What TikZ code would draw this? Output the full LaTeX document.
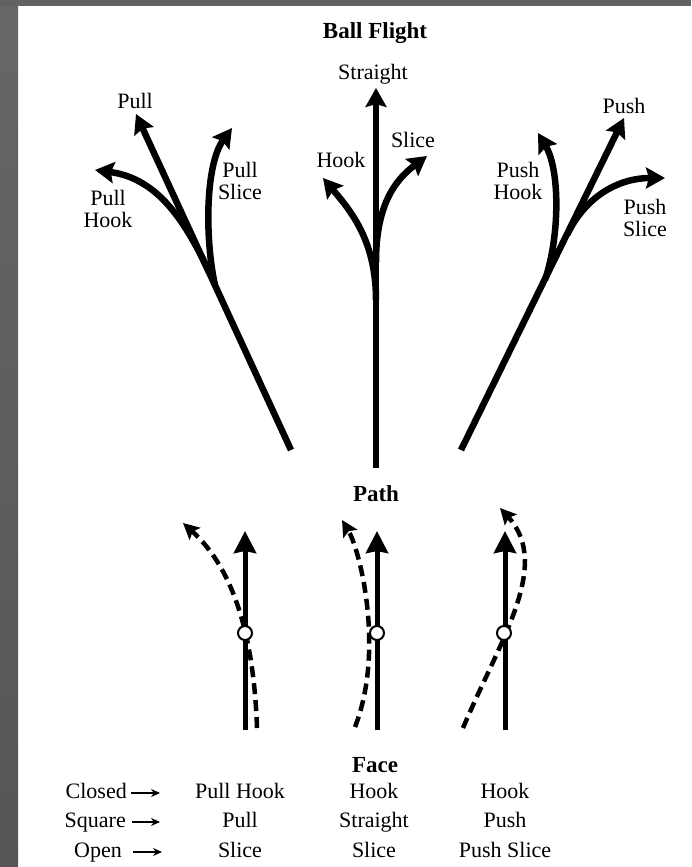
\documentclass[tikz,border=0pt]{standalone}
\usepackage{fontspec}
\setmainfont{Liberation Serif}
\usetikzlibrary{arrows.meta}

\definecolor{frametop}{HTML}{626262}
\definecolor{frameA}{HTML}{676767}
\definecolor{frameB}{HTML}{555555}
\definecolor{frameC}{HTML}{707070}

\begin{document}
\begin{tikzpicture}[x=1pt,y=-1pt,
    ballarrow/.style={line width=6.5pt, -{Stealth[length=19pt,width=21pt,inset=3pt]}},
    patharrow/.style={line width=5pt, -{Stealth[length=22pt,width=22pt,inset=2pt]}},
    facecurve/.style={line width=4.5pt, dash pattern=on 11pt off 6pt, -{Stealth[length=16pt,width=16pt,inset=3pt]}},
    facearrow/.style={line width=1.3pt, -{Stealth[length=9pt,width=8pt]}},
    lbl/.style={font=\fontsize{22}{22}\selectfont, align=center, inner sep=0pt},
    cell/.style={font=\fontsize{22}{22}\selectfont, inner sep=0pt, text height=15pt, text depth=5pt},
    ttl/.style={font=\fontsize{23}{23}\selectfont\bfseries, inner sep=0pt}]
    % frame
    \fill[white] (0,0) rectangle (691,867);
    \shade[top color=frameA, middle color=frameC, bottom color=frameB] (0,0) rectangle (18,867);
    \fill[frametop] (0,0) rectangle (691,6);
    \useasboundingbox (0,0) rectangle (691,867);

    % ball flight
    \node[ttl] (ballflight) at (375,33) {Ball Flight};
    \coordinate (pullbase) at (291,450);
    \coordinate (pulltip) at (136,114);
    \coordinate (pullhookjoin) at (209,272);
    \coordinate (pullhooktip) at (95,170);
    \coordinate (pullslicejoin) at (215,285);
    \coordinate (pullslicetip) at (232,128);
    \draw[ballarrow] (pullbase) -- (pulltip);
    \draw[ballarrow] (pullhookjoin) .. controls (183,216) and (155,178) .. (pullhooktip);
    \draw[ballarrow] (pullslicejoin) .. controls (205,240) and (205,165) .. (pullslicetip);
    \node[lbl] (pull) at (135,101) {Pull};
    \node[lbl] (pullhook) at (108,209) {Pull\\Hook};
    \node[lbl] (pullslice) at (240,181) {Pull\\Slice};

    \coordinate (straightbase) at (376,468);
    \coordinate (straighttip) at (376,88);
    \coordinate (hookjoin) at (376,300);
    \coordinate (hooktip) at (323,178);
    \coordinate (slicejoin) at (376,262);
    \coordinate (slicetip) at (427,156);
    \draw[ballarrow] (straightbase) -- (straighttip);
    \draw[ballarrow] (hookjoin) .. controls (376,240) and (350,210) .. (hooktip);
    \draw[ballarrow] (slicejoin) .. controls (376,205) and (395,180) .. (slicetip);
    \node[lbl] (straight) at (373,74) {Straight};
    \node[lbl] (hook) at (341,160) {Hook};
    \node[lbl] (slice) at (413,140) {Slice};

    \coordinate (pushbase) at (461,450);
    \coordinate (pushtip) at (624,118);
    \coordinate (pushhookjoin) at (545,280);
    \coordinate (pushhooktip) at (538,133);
    \coordinate (pushslicejoin) at (567,235);
    \coordinate (pushslicetip) at (665,178);
    \draw[ballarrow] (pushbase) -- (pushtip);
    \draw[ballarrow] (pushhookjoin) .. controls (560,235) and (560,170) .. (pushhooktip);
    \draw[ballarrow] (pushslicejoin) .. controls (586,195) and (620,178) .. (pushslicetip);
    \node[lbl] (push) at (624,106) {Push};
    \node[lbl] (pushhook) at (518,181) {Push\\Hook};
    \node[lbl] (pushslice) at (645,218) {Push\\Slice};

    % path
    \node[ttl] (path) at (376,494) {Path};
    \foreach \n/\x in {left/245, mid/377, right/505} {
      \coordinate (\n base) at (\x,730);
      \coordinate (\n tip) at (\x,531);
      \draw[patharrow] (\n base) -- (\n tip);
    }
    \draw[facecurve] (257,728) .. controls (254,640) and (235,570) .. (183,523);
    \draw[facecurve] (355,727) .. controls (385,650) and (360,550) .. (342,520);
    \draw[facecurve] (463,728) .. controls (500,640) and (552,565) .. (500,508);
    \foreach \n/\x in {left/245, mid/377, right/504}
      \draw[line width=2pt, fill=white] (\x,633) circle (7);

    % face
    \node[ttl] (face) at (375,765) {Face};
    \node[cell, anchor=east] (closed) at (127,793) {Closed};
    \node[cell, anchor=east] (square) at (126,822) {Square};
    \node[cell, anchor=east] (open) at (122,852) {Open};
    \foreach \n/\g/\l in {closed/4/29, square/6/28, open/11/29}
      \draw[facearrow] ([xshift=\g pt]\n.east) -- ++(\l,0);
    \foreach \y/\a/\b/\c in {793/Pull Hook/Hook/Hook, 822/Pull/Straight/Push, 852/Slice/Slice/Push Slice} {
      \node[cell] (pullcol\y) at (240,\y) {\a};
      \node[cell] (midcol\y) at (374,\y) {\b};
      \node[cell] (pushcol\y) at (505,\y) {\c};
    }
  \end{tikzpicture}
\end{document}
